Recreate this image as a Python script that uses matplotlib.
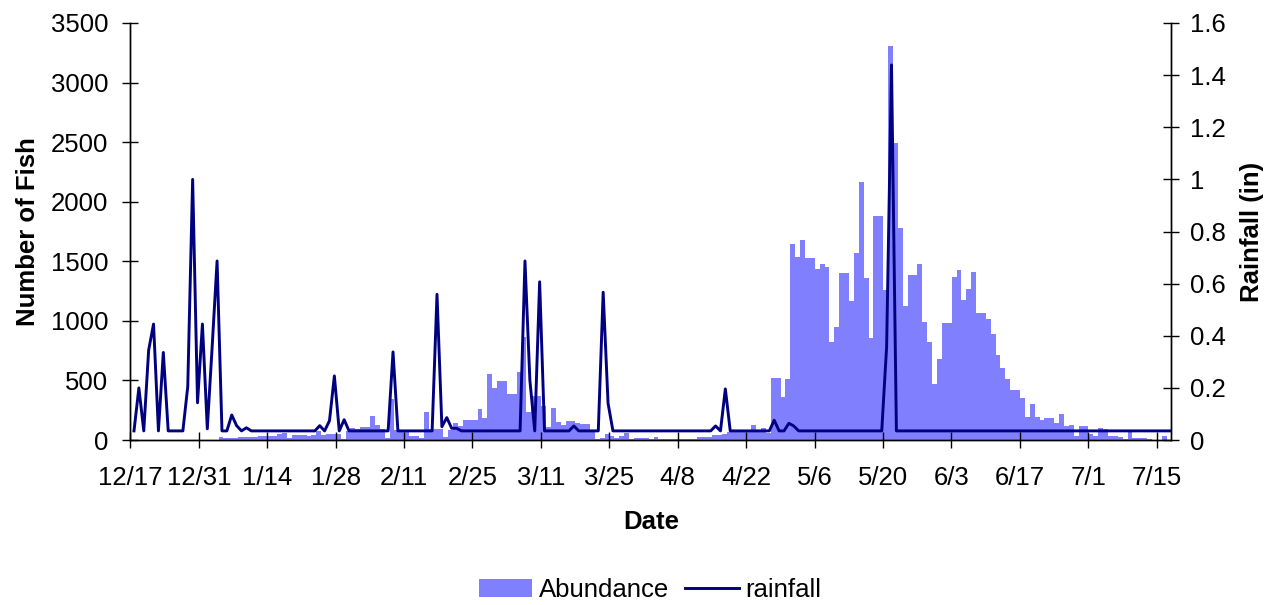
import numpy as np
import matplotlib
matplotlib.use('Agg')
import matplotlib.pyplot as plt

plt.rcParams['font.family'] = ['Liberation Sans', 'DejaVu Sans']

# daily sampling, day 0 = 12/17 through 7/18
tick_labels = ['12/17', '12/31', '1/14', '1/28', '2/11', '2/25', '3/11', '3/25',
               '4/8', '4/22', '5/6', '5/20', '6/3', '6/17', '7/1', '7/15']

# fish counted per day (no sampling for the first 18 days)
abundance = [0] * 18 + [
    25, 14, 14, 14, 25, 25, 25, 25, 34, 34, 36, 36, 50, 60, 15, 45, 45, 45, 30, 38,   # 18-37
    78, 38, 50, 50, 48, 5, 72, 102, 96, 112, 112, 204, 127, 92, 20, 346, 84, 84, 70, 34,  # 38-57
    34, 20, 235, 90, 95, 95, 28, 84, 143, 120, 168, 168, 168, 260, 187, 554, 437, 495, 495, 386,  # 58-77
    386, 570, 862, 235, 369, 369, 285, 109, 270, 151, 126, 160, 160, 142, 136, 136, 72, 12, 20, 52,  # 78-97
    35, 20, 30, 60, 12, 21, 21, 21, 12, 26, 8, 12, 12, 12, 10, 10, 10, 8, 28, 28,  # 98-117
    28, 40, 40, 50, 66, 72, 72, 72, 67, 127, 67, 103, 55, 520, 520, 364, 512, 1645, 1538, 1678,  # 118-137
    1530, 1530, 1438, 1477, 1454, 825, 948, 1401, 1401, 1169, 1569, 2165, 1362, 859, 1880, 1880, 1259, 3306, 2492, 1779,  # 138-157
    1127, 1385, 1385, 1477, 990, 822, 470, 680, 982, 982, 1368, 1426, 1175, 1267, 1410, 1066, 1066, 1015, 889, 713,  # 158-177
    604, 512, 420, 420, 352, 193, 302, 193, 168, 185, 185, 143, 218, 117, 126, 34, 117, 117, 50, 34,  # 178-197
    100, 92, 34, 34, 25, 8, 75, 17, 17, 17, 8, 0, 0, 34, 0,  # 198-212
]

# daily rainfall (in), 0.035 on dry days
B = 0.035
rainfall = [
    B, 0.2, B, 0.345, 0.445, B, 0.336, B, B, B,                          # 0-9
    B, 0.205, 1.0, 0.143, 0.445, 0.043, 0.36, 0.687, B, B,              # 10-19
    0.096, 0.055, B, 0.047, B, B, B, B, B, B,                           # 20-29
    B, B, B, B, B, B, B, B, 0.055, B,                                   # 30-39
    0.074, 0.246, B, 0.078, B, B, B, B, B, B,                           # 40-49
    B, B, B, 0.338, B, B, B, B, B, B,                                   # 50-59
    B, B, 0.559, 0.051, 0.086, 0.045, 0.045, B, B, B,                   # 60-69
    B, B, B, B, B, B, B, B, B, B,                                       # 70-79
    0.687, 0.23, B, 0.607, B, B, B, B, B, B,                            # 80-89
    0.054, B, B, B, B, B, 0.567, 0.141, B, B,                           # 90-99
    B, B, B, B, B, B, B, B, B, B,                                       # 100-109
    B, B, B, B, B, B, B, B, B, 0.054,                                   # 110-119
    B, 0.196, B, B, B, B, B, B, B, B,                                   # 120-129
    B, 0.076, B, B, 0.064, 0.054, B, B, B, B,                           # 130-139
    B, B, B, B, B, B, B, B, B, B,                                       # 140-149
    B, B, B, B, 0.358, 1.439, B, B, B, B,                               # 150-159
] + [B] * 53                                                            # 160-212

days = np.arange(len(abundance))
FS = 18.5

fig = plt.figure(figsize=(12.79, 6.05), dpi=100)
ax = fig.add_axes([0.1019, 0.2727, 0.8139, 0.6893])

ax.bar(days + 0.55, abundance, width=1.0, color='#8080FF', linewidth=0, label='Abundance')
ax.set_xlim(0, len(days))
ax.set_ylim(0, 3500)
ax.set_yticks(np.arange(0, 3501, 500))
ax.set_xticks(np.arange(0, 211, 14))
ax.set_xticklabels(tick_labels)

ax2 = ax.twinx()
ax2.plot(days + 0.75, rainfall, color='#000080', linewidth=2.1, label='rainfall')
ax2.set_ylim(0, 1.6)
ax2.set_yticks(np.arange(0, 1.61, 0.2))
ax2.set_yticklabels(['0', '0.2', '0.4', '0.6', '0.8', '1', '1.2', '1.4', '1.6'])

for a in (ax, ax2):
    a.spines['top'].set_visible(False)
    for s in a.spines.values():
        s.set_linewidth(1.0)
    a.tick_params(axis='x', direction='inout', length=11.5, width=1.0, labelsize=FS, pad=13)
ax.tick_params(axis='y', direction='inout', length=11.5, width=1.0, labelsize=FS, pad=10)
ax2.tick_params(axis='y', direction='inout', length=11.5, width=1.0, labelsize=FS, pad=8)

ax.set_ylabel('Number of Fish', fontsize=FS, fontweight='bold', va='center')
ax.yaxis.set_label_coords(-0.0983, 0.5)
ax2.set_ylabel('Rainfall (in)', fontsize=FS, fontweight='bold', va='center')
ax2.yaxis.set_label_coords(1.0775, 0.5)
ax.set_xlabel('Date', fontsize=FS, fontweight='bold', va='center')
ax.xaxis.set_label_coords(0.5, -0.1966)

h1, l1 = ax.get_legend_handles_labels()
h2, l2 = ax2.get_legend_handles_labels()
fig.legend(h1 + h2, l1 + l2, loc='center', bbox_to_anchor=(0.508, 0.025), ncol=2,
           frameon=False, fontsize=FS, handlelength=2.1, handletextpad=0.25,
           columnspacing=0.6)

plt.savefig('out.png', dpi=100)
plt.close()
